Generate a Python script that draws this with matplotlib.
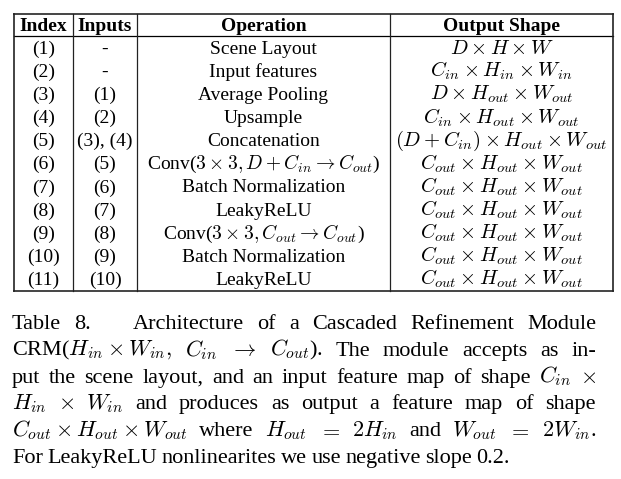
import matplotlib
matplotlib.use('Agg')
import matplotlib.pyplot as plt

plt.rcParams['font.family'] = 'Liberation Serif'
plt.rcParams['mathtext.fontset'] = 'cm'

# Table content
headers = ['Index', 'Inputs', 'Operation', 'Output Shape']
indices = ['(1)', '(2)', '(3)', '(4)', '(5)', '(6)', '(7)', '(8)', '(9)', '(10)', '(11)']
inputs = ['-', '-', '(1)', '(2)', '(3), (4)', '(5)', '(6)', '(7)', '(8)', '(9)', '(10)']
operations = ['Scene Layout', 'Input features', 'Average Pooling', 'Upsample',
              'Concatenation',
              r'Conv($3\times 3, D + C_{in} \rightarrow C_{out}$)',
              'Batch Normalization', 'LeakyReLU',
              r'Conv($3\times 3, C_{out} \rightarrow C_{out}$)',
              'Batch Normalization', 'LeakyReLU']
shapes = [r'$D\times H\times W$',
          r'$C_{in}\times H_{in}\times W_{in}$',
          r'$D\times H_{out}\times W_{out}$',
          r'$C_{in}\times H_{out}\times W_{out}$',
          r'$(D+C_{in})\times H_{out}\times W_{out}$'] + \
         [r'$C_{out}\times H_{out}\times W_{out}$'] * 6

# Caption, one list of words per line (last line is not justified)
caption = [
    ['Table', '8.', 'Architecture', 'of', 'a', 'Cascaded', 'Refinement', 'Module'],
    [r'CRM($H_{in} \times W_{in},$', r'$C_{in}$', r'$\rightarrow$', r'$C_{out}$).',
     'The', 'module', 'accepts', 'as', 'in-'],
    ['put', 'the', 'scene', 'layout,', 'and', 'an', 'input', 'feature', 'map', 'of',
     'shape', r'$C_{in}$', r'$\times$'],
    [r'$H_{in}$', r'$\times$', r'$W_{in}$', 'and', 'produces', 'as', 'output', 'a',
     'feature', 'map', 'of', 'shape'],
    [r'$C_{out}\times H_{out}\times W_{out}$', 'where', r'$H_{out}$', r'$=$',
     r'$2H_{in}$', 'and', r'$W_{out}$', r'$=$', r'$2W_{in}$.'],
    ['For', 'LeakyReLU', 'nonlinearites', 'we', 'use', 'negative', 'slope', '0.2.'],
]

W, H = 621, 479
fig = plt.figure(figsize=(W / 100, H / 100), dpi=100)
ax = fig.add_axes([0, 0, 1, 1])
ax.set_xlim(0, W)
ax.set_ylim(H, 0)
ax.axis('off')

## table grid
col_edges = [14, 73, 137, 390, 613]
top, head_bot, bottom = 14, 36, 290.5
row_h = (bottom - head_bot) / len(indices)

ax.plot([col_edges[0], col_edges[-1]], [top, top], color='#444444', lw=1.4)
ax.plot([col_edges[0], col_edges[-1]], [bottom, bottom], color='#444444', lw=1.4)
ax.plot([col_edges[0], col_edges[-1]], [head_bot, head_bot], color='black', lw=0.9)
for x in col_edges:
    lw = 1.2 if x in (col_edges[0], col_edges[-1]) else 0.9
    ax.plot([x, x], [top, bottom], color='#222222', lw=lw)

centers = [(a + b) / 2 for a, b in zip(col_edges[:-1], col_edges[1:])]
fs = 14
for c, h in zip(centers, headers):
    ax.text(c, head_bot - 5, h, ha='center', va='baseline', fontsize=fs, fontweight='bold')

for i, row in enumerate(zip(indices, inputs, operations, shapes)):
    base = head_bot + row_h * (i + 1) - 5.5
    for j, (c, s) in enumerate(zip(centers, row)):
        ax.text(c, base, s, ha='center', va='baseline', fontsize=14.8 if j == 3 else fs)

## caption, justified between x0 and x1
x0, x1 = 12, 596
cap_fs = 16
base0, line_gap = 329, 26.8
renderer = fig.canvas.get_renderer()
for li, words in enumerate(caption):
    y = base0 + li * line_gap
    texts = [ax.text(0, y, w, ha='left', va='baseline', fontsize=cap_fs) for w in words]
    widths = [t.get_window_extent(renderer).width for t in texts]
    weights = [1.0] * (len(words) - 1)
    if li == 0:
        weights[1] = 3.2
    if li == len(caption) - 1:
        gap = 4.5
    else:
        gap = (x1 - x0 - sum(widths)) / sum(weights)
    x = x0
    for k, (t, w) in enumerate(zip(texts, widths)):
        t.set_x(x)
        x += w
        if k < len(weights):
            x += gap * weights[k]

fig.savefig('out.png', dpi=100, facecolor='white')
